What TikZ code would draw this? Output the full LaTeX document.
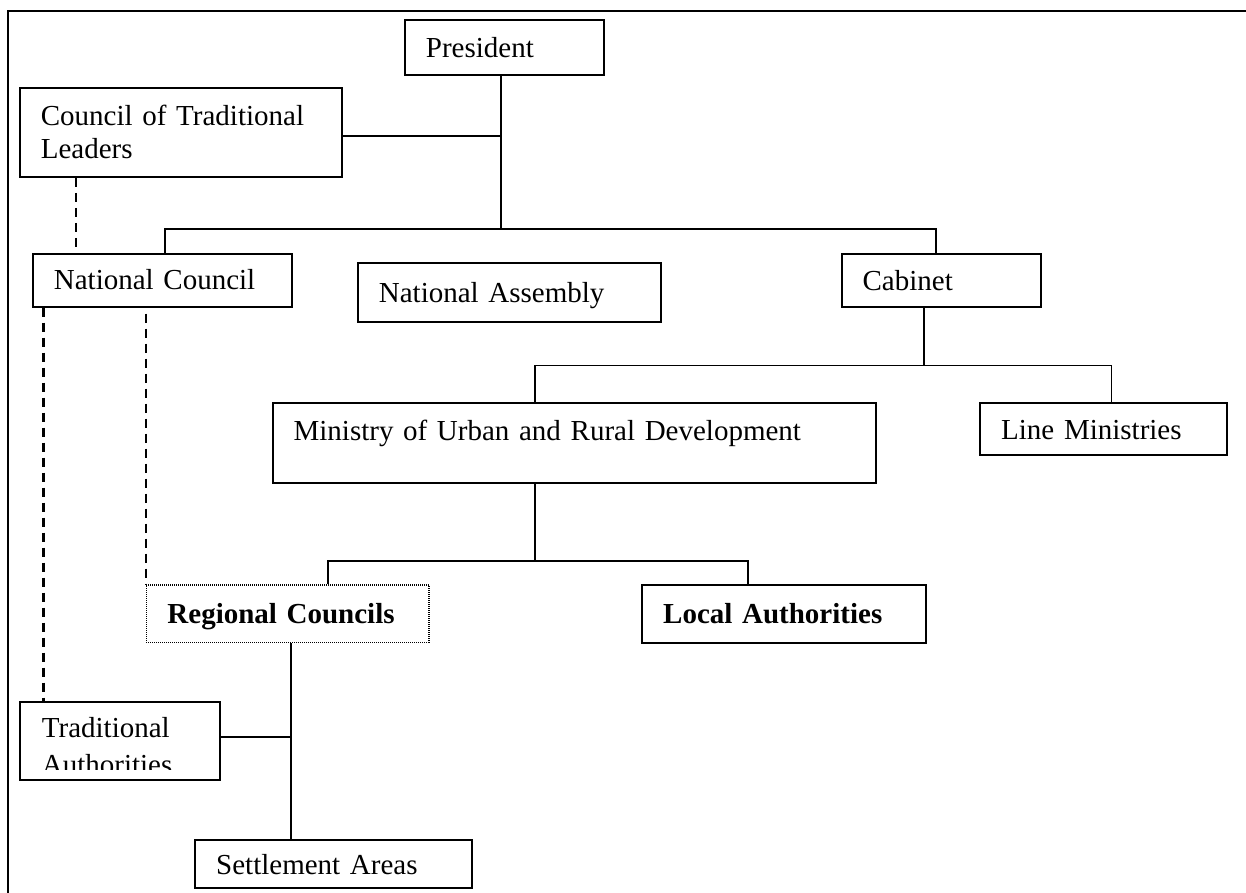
\documentclass[tikz,border=0pt]{standalone}
\usepackage{fontspec}
\setmainfont{Liberation Serif}
\usepackage{tikz}
\newcommand{\orgfont}{\fontsize{29}{32.3}\selectfont}

\begin{document}
\begin{tikzpicture}[
    x=1pt, y=-1pt,
    box/.style={rectangle, draw, line width=1.8pt, anchor=north west, align=left, inner xsep=21pt, inner ysep=0pt, text height=26pt, text depth=6.3pt, font=\orgfont},
    link/.style={line width=1.8pt},
    dashlink/.style={line width=2.2pt, dash pattern=on 9pt off 6pt}
]
    \useasboundingbox (0,0) rectangle (1246,893);
    \draw[line width=2pt] (8,950) |- (1300,10.7);

    \node[box, text width=157pt, minimum height=55pt] (pres) at (404,19) {President};
    \node[box, text width=280pt, minimum height=89pt, text depth=39pt] (ctl) at (19,87) {Council of Traditional\\Leaders};
    \node[box, text width=217pt, minimum height=53pt] (natc) at (32,252.7) {National Council};
    \node[box, text width=261pt, minimum height=59pt] (nata) at (357,262) {National Assembly};
    \node[box, text width=157.3pt, minimum height=53.3pt] (cab) at (840.7,252.7) {Cabinet};
    \node[box, text width=561pt, minimum height=79.4pt, text depth=30pt] (murd) at (271.7,402.3) {Ministry of Urban and Rural Development};
    \node[box, text width=204.7pt, minimum height=52pt] (linem) at (979.3,402.3) {Line Ministries};
    \node[box, text width=240.3pt, minimum height=57.7pt, line width=1.5pt, dash pattern=on 1pt off 1pt, font=\orgfont\bfseries] (regc) at (145.7,584) {Regional Councils};
    \node[box, text width=241.4pt, minimum height=57.7pt, font=\orgfont\bfseries] (loca) at (641.3,584) {Local Authorities};
    \node[box, minimum width=199.7pt, minimum height=78pt] (trad) at (19,700.7) {};
    \node[box, text width=234.7pt, minimum height=48pt] (setl) at (194.3,839.3) {Settlement Areas};

    \begin{scope}
        \clip (trad.north west) rectangle ([yshift=11.4pt]trad.south east);
        \node[anchor=base west, align=left, text width=160pt, inner sep=0pt, font=\orgfont] (tradtext) at ([xshift=22.7pt, yshift=-36.6pt]trad.north west) {Traditional\\[4.4pt]Authorities};
    \end{scope}

    \coordinate (topbus) at (501,229.3);
    \coordinate (ctljoin) at (501,135.7);
    \coordinate (cabbus) at (924.3,365.5);
    \coordinate (murdbus) at (535,560.7);
    \coordinate (tradjoin) at (291,737);

    \draw[link] (pres.south -| topbus) -- (topbus);
    \draw[link] (ctljoin) -- (ctljoin -| ctl.east);
    \draw[link] ([xshift=2.5pt]natc.north) |- (topbus) -| ([xshift=-5pt]cab.north);
    \draw[link] (cab.south -| cabbus) -- (cabbus);
    \draw[link] (murd.north -| murdbus) |- (cabbus) -| ([xshift=8pt]linem.north);
    \draw[link] (murd.south -| murdbus) -- (murdbus);
    \draw[link] ([xshift=40.5pt]regc.north) |- (murdbus) -| ([xshift=-36.3pt]loca.north);
    \draw[link] (regc.south -| tradjoin) -- (setl.north -| tradjoin);
    \draw[link] (tradjoin) -- (tradjoin -| trad.east);

    \draw[dashlink] ([xshift=-105pt]ctl.south) -- ([xshift=-105pt]ctl.south |- natc.north);
    \draw[dashlink] ([xshift=11.5pt]natc.south west) -- ([xshift=11.5pt]natc.south west |- trad.north);
    \draw[dashlink] ([yshift=-6pt]natc.south -| regc.north west) -- (regc.north west);
\end{tikzpicture}
\end{document}
